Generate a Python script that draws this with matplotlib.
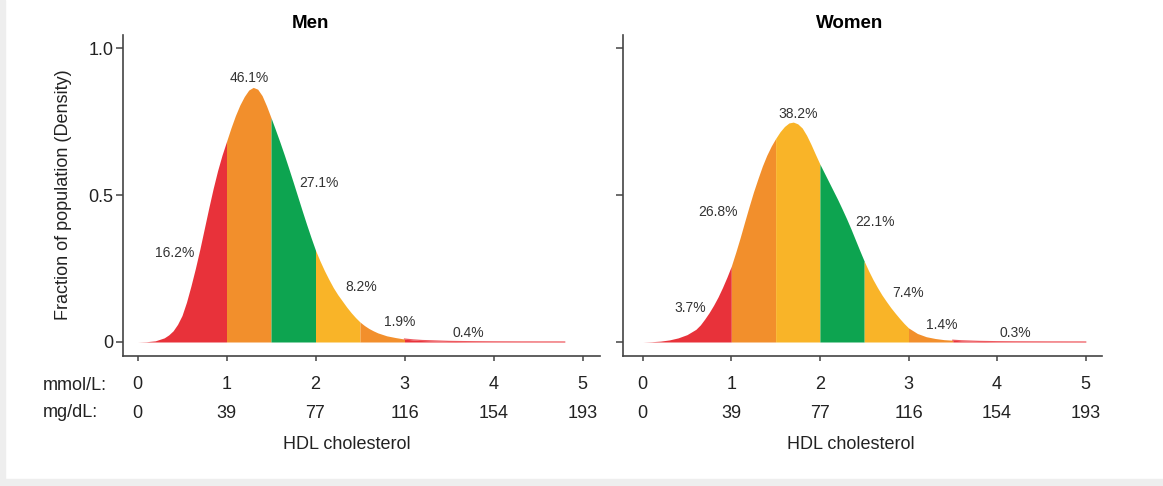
import numpy as np
import matplotlib
matplotlib.use('Agg')
import matplotlib.pyplot as plt
from matplotlib.patches import Rectangle

plt.rcParams['font.family'] = ['Liberation Sans', 'DejaVu Sans']

# HDL (mmol/L) sample positions and density
men_x = [0.0, 0.1, 0.2, 0.3, 0.35, 0.4, 0.45, 0.5, 0.55, 0.6, 0.65, 0.7, 0.75, 0.8, 0.85, 0.9, 0.95,
         1.0, 1.05, 1.1, 1.15, 1.2, 1.25, 1.3, 1.35, 1.4, 1.45, 1.5, 1.55, 1.6, 1.65, 1.7, 1.75, 1.8, 1.85, 1.9, 1.95,
         2.0, 2.05, 2.1, 2.15, 2.2, 2.25, 2.3, 2.35, 2.4, 2.45, 2.5, 2.55, 2.6, 2.65, 2.7, 2.8, 2.9,
         3.0, 3.1, 3.2, 3.3, 3.4, 3.5, 3.6, 3.7, 3.8, 3.9,
         4.0, 4.1, 4.2, 4.3, 4.4, 4.5, 4.6, 4.7, 4.8]
men_d = [0.000, 0.001, 0.004, 0.014, 0.024, 0.038, 0.060, 0.090, 0.135, 0.190, 0.250, 0.315, 0.385, 0.455, 0.522, 0.583, 0.636,
         0.682, 0.728, 0.770, 0.806, 0.835, 0.857, 0.866, 0.860, 0.838, 0.803, 0.763, 0.722, 0.680, 0.636, 0.590, 0.543, 0.495, 0.447, 0.400, 0.355,
         0.312, 0.276, 0.243, 0.213, 0.185, 0.161, 0.140, 0.119, 0.100, 0.083, 0.068, 0.056, 0.046, 0.038, 0.031, 0.021, 0.015,
         0.010, 0.007, 0.005, 0.004, 0.003, 0.002, 0.0016, 0.0012, 0.0009, 0.0007,
         0.0005, 0.0004, 0.0003, 0.0002, 0.0002, 0.0001, 0.0001, 0.0001, 0.0]

women_x = [0.0, 0.1, 0.2, 0.3, 0.4, 0.5, 0.6, 0.65, 0.7, 0.75, 0.8, 0.85, 0.9, 0.95,
           1.0, 1.05, 1.1, 1.15, 1.2, 1.25, 1.3, 1.35, 1.4, 1.45, 1.5, 1.55, 1.6, 1.65, 1.7, 1.75, 1.8, 1.85, 1.9, 1.95,
           2.0, 2.05, 2.1, 2.15, 2.2, 2.25, 2.3, 2.35, 2.4, 2.45, 2.5, 2.55, 2.6, 2.65, 2.7, 2.75, 2.8, 2.85, 2.9, 2.95,
           3.0, 3.1, 3.2, 3.3, 3.4, 3.5, 3.6, 3.7, 3.8, 3.9,
           4.0, 4.1, 4.2, 4.3, 4.4, 4.5, 4.6, 4.7, 4.8, 4.9, 5.0]
women_d = [0.000, 0.001, 0.003, 0.007, 0.014, 0.025, 0.043, 0.058, 0.078, 0.100, 0.125, 0.153, 0.185, 0.220,
           0.258, 0.305, 0.355, 0.408, 0.460, 0.510, 0.555, 0.598, 0.635, 0.666, 0.692, 0.715, 0.733, 0.745, 0.748, 0.742, 0.728, 0.703, 0.672, 0.638,
           0.605, 0.575, 0.545, 0.515, 0.485, 0.453, 0.420, 0.385, 0.348, 0.311, 0.275, 0.242, 0.212, 0.185, 0.160, 0.138, 0.117, 0.098, 0.080, 0.063,
           0.048, 0.029, 0.018, 0.012, 0.008, 0.006, 0.004, 0.003, 0.002, 0.0015,
           0.001, 0.0008, 0.0006, 0.0005, 0.0004, 0.0003, 0.0002, 0.0002, 0.0001, 0.0001, 0.0]

men_edges = [0, 1, 1.5, 2, 2.5, 3, 4.8]
women_edges = [0, 1, 1.5, 2, 2.5, 3, 3.5, 5.0]

men_pct = ['16.2%', '46.1%', '27.1%', '8.2%', '1.9%', '0.4%']
men_pct_pos = [(0.42, 0.302), (1.253, 0.898), (2.043, 0.54), (2.519, 0.188), (2.942, 0.069), (3.717, 0.029)]
women_pct = ['3.7%', '26.8%', '38.2%', '22.1%', '7.4%', '1.4%', '0.3%']
women_pct_pos = [(0.534, 0.115), (0.853, 0.443), (1.749, 0.776), (2.622, 0.409), (2.998, 0.165), (3.374, 0.058), (4.202, 0.029)]

mmol_ticks = [0, 1, 2, 3, 4, 5]
mgdl_labels = ['0', '39', '77', '116', '154', '193']

red = '#E8323A'
orange = '#F28F2C'
green = '#0DA450'
yellow = '#F9B428'
men_cols = [red, orange, green, yellow, orange, red]
women_cols = [red, orange, yellow, green, yellow, orange, red]

W, H = 1163, 486
fig = plt.figure(figsize=(W / 100, H / 100), dpi=100)
fig.patch.set_facecolor('white')
fig.patches.append(Rectangle((0, 0), 5 / W, 1, transform=fig.transFigure, color='#eeeeee', zorder=0))
fig.patches.append(Rectangle((0, 0), 1, 7 / H, transform=fig.transFigure, color='#eeeeee', zorder=0))

bot = (H - 356) / H
hgt = 321 / H
ax1 = fig.add_axes([123 / W, bot, 477 / W, hgt])
ax2 = fig.add_axes([623 / W, bot, 479 / W, hgt])

txt_col = '#222222'


def draw(ax, xs, ds, edges, cols, pcts, pos, title, title_x, x0, unit, labels_left):
    xs = np.array(xs)
    ds = np.array(ds)
    for i in range(len(cols)):
        m = (xs >= edges[i] - 1e-9) & (xs <= edges[i + 1] + 1e-9)
        ax.fill_between(xs[m], 0, ds[m], color=cols[i], lw=0)
    tail = xs >= edges[-2] - 1e-9
    ax.plot(xs[tail], ds[tail], color='#EE5A60', lw=0.9)
    for s, (px, py) in zip(pcts, pos):
        ax.text(px, py, s, fontsize=10, color='#333333', ha='center', va='center')

    left = ax.get_position().x0 * W
    right = ax.get_position().x1 * W
    ax.set_xlim((left - x0) / unit, (right - x0) / unit)
    ax.set_ylim(-14 / 294, 1 + 13 / 294)
    for sp in ['top', 'right']:
        ax.spines[sp].set_visible(False)
    for sp in ['left', 'bottom']:
        ax.spines[sp].set_color('#444444')
        ax.spines[sp].set_linewidth(1.2)
    ax.set_yticks([0, 0.5, 1.0])
    if labels_left:
        ax.set_yticklabels(['0', '0.5', '1.0'], fontsize=13, color=txt_col)
    else:
        ax.set_yticklabels([])
    ax.tick_params(axis='y', length=5, width=1.1, color='#444444', pad=2)
    ax.set_xticks(mmol_ticks)
    ax.set_xticklabels([])
    ax.tick_params(axis='x', length=3.5, width=1.1, color='#444444')
    tr = ax.get_xaxis_transform()
    for v, mg in zip(mmol_ticks, mgdl_labels):
        ax.text(v, -0.0903, str(v), transform=tr, fontsize=13, color=txt_col, ha='center', va='center')
        ax.text(v, -0.1776, mg, transform=tr, fontsize=13, color=txt_col, ha='center', va='center')
    ax.text(2.35, -0.277, 'HDL cholesterol', transform=tr, fontsize=13, color=txt_col, ha='center', va='center')
    ax.text(title_x, 1.037, title, transform=tr, fontsize=13.5, fontweight='bold', color='black', ha='center', va='center')


draw(ax1, men_x, men_d, men_edges, men_cols, men_pct, men_pct_pos, 'Men', 1.94, 137.5, 89.0, True)
draw(ax2, women_x, women_d, women_edges, women_cols, women_pct, women_pct_pos, 'Women', 2.33, 642.7, 88.6, False)

fig.text(63 / W, 1 - 195 / H, 'Fraction of population (Density)', rotation=90, fontsize=13,
         color=txt_col, ha='center', va='center')
fig.text(43 / W, 1 - 385 / H, 'mmol/L:', fontsize=13, color=txt_col, ha='left', va='center')
fig.text(43 / W, 1 - 412 / H, 'mg/dL:', fontsize=13, color=txt_col, ha='left', va='center')

fig.savefig('out.png', dpi=100, facecolor=fig.get_facecolor())
